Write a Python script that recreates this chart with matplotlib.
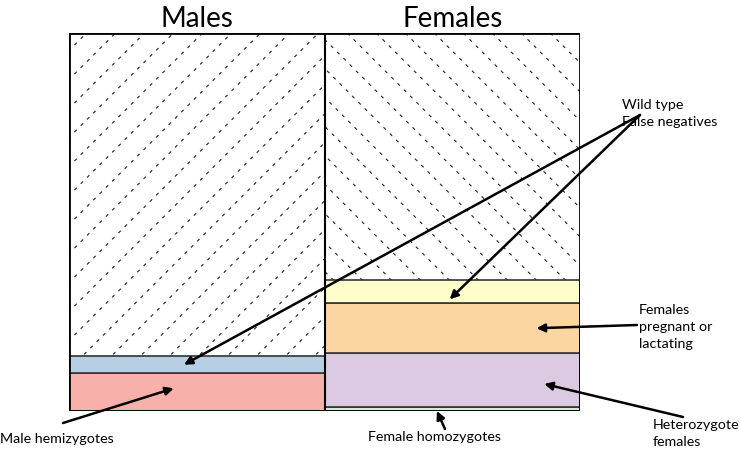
import numpy as np
import matplotlib.pyplot as plt
from matplotlib.patches import Rectangle

plt.rcParams['font.family'] = ['Lato', 'DejaVu Sans']

# Proportions (fraction of each sex), stacked from bottom
groups = ['Males', 'Females']
male_segments = ['Male hemizygotes', 'Wild type false negatives']
male_values = [0.100, 0.045]
male_colors = ['#f8b0ab', '#b6cfe3']

female_segments = ['Female homozygotes', 'Heterozygote females',
                   'Females pregnant or lactating', 'Wild type false negatives']
female_values = [0.010, 0.143, 0.132, 0.061]
female_colors = ['#d6ecd2', '#dccae3', '#fcd6a1', '#fefdcb']

W, H = 740, 454
ax_w, ax_h = 580 - 69, 411 - 33
fig = plt.figure(figsize=(W / 100, H / 100), dpi=100)
ax = fig.add_axes([69 / W, (H - 411) / H, ax_w / W, ax_h / H])
ax.set_xlim(0, 2)
ax.set_ylim(0, 1)
ax.axis('off')


def stack(x0, values, colors):
    bottom = 0
    for v, c in zip(values, colors):
        ax.bar(x0, v, width=1, bottom=bottom, align='edge', color=c,
               edgecolor='#333333', linewidth=1.2, zorder=2)
        bottom += v
    return bottom


male_top = stack(0, male_values, male_colors)
female_top = stack(1, female_values, female_colors)

# dashed 45-degree hatching in the remaining area
px_x = ax_w / 2   # pixels per data unit in x
px_y = ax_h       # pixels per data unit in y


def hatch(x0, y0, direction):
    rect = Rectangle((x0, y0), 1, 1 - y0, transform=ax.transData,
                     facecolor='none', edgecolor='none')
    ax.add_patch(rect)
    step = 29 / px_x
    slope = px_x / px_y  # 45 degrees on screen
    for k in np.arange(-3, 2, step):
        if direction > 0:
            xs = np.array([x0 + k, x0 + k + 3])
            ys = np.array([0, 3 * slope])
        else:
            xs = np.array([x0 + k + 1.5, x0 + k + 4.5])
            ys = np.array([1, 1 - 3 * slope])
        ln, = ax.plot(xs, ys, ls=(0, (3, 5)), color='#222222', lw=0.8, zorder=1)
        ln.set_clip_path(rect)


hatch(0, male_top, 1)
hatch(1, female_top, -1)

# outline
ax.add_patch(Rectangle((0, 0), 2, 1, facecolor='none', edgecolor='black',
                       linewidth=2, zorder=4))
ax.plot([1, 1], [0, 1], color='black', lw=1.5, zorder=4)

# group titles
for i, g in enumerate(groups):
    ax.text(i + 0.5, 1 + 6 / px_y, g, ha='center', va='baseline', fontsize=20)

arrow = dict(arrowstyle='-|>', color='black', lw=1.8, mutation_scale=12,
             shrinkA=0, shrinkB=0)


def mid(values, i):
    return sum(values[:i]) + values[i] / 2


def px(x, y):
    return (x, H - y)


fs = 10.3

# Wild type false negatives (two arrows)
wt_start = px(640, 115)
ax.annotate('', xy=(0.45, mid(male_values, 1)), xycoords='data',
            xytext=wt_start, textcoords='figure pixels', arrowprops=arrow)
ax.annotate('', xy=(1.49, mid(female_values, 3) - 0.02), xycoords='data',
            xytext=wt_start, textcoords='figure pixels', arrowprops=arrow)
fig.text(622 / W, 1 - 99 / H, 'Wild type\nFalse negatives', ha='left', va='top',
         fontsize=fs, linespacing=1.5)

# Pregnant / lactating
ax.annotate('', xy=(1.83, mid(female_values, 2)), xycoords='data',
            xytext=px(637, 325), textcoords='figure pixels', arrowprops=arrow)
fig.text(639 / W, 1 - 304 / H, 'Females\npregnant or\nlactating', ha='left', va='top',
         fontsize=fs, linespacing=1.5)

# Heterozygote
ax.annotate('', xy=(1.86, mid(female_values, 1) - 0.01), xycoords='data',
            xytext=px(683, 417), textcoords='figure pixels', arrowprops=arrow)
fig.text(653 / W, 1 - 419 / H, 'Heterozygote\nfemales', ha='left', va='top',
         fontsize=fs, linespacing=1.5)

# Female homozygotes
ax.annotate('', xy=(1.44, 0.0), xycoords='data',
            xytext=px(445, 429), textcoords='figure pixels', arrowprops=arrow)
fig.text(435 / W, 1 - 437 / H, 'Female homozygotes', ha='center', va='center',
         fontsize=fs)

# Male hemizygotes
ax.annotate('', xy=(0.41, mid(male_values, 0) + 0.01), xycoords='data',
            xytext=px(63, 423), textcoords='figure pixels', arrowprops=arrow)
fig.text(0, 1 - 439 / H, 'Male hemizygotes', ha='left', va='center', fontsize=fs)

fig.savefig('out.png', dpi=100)
